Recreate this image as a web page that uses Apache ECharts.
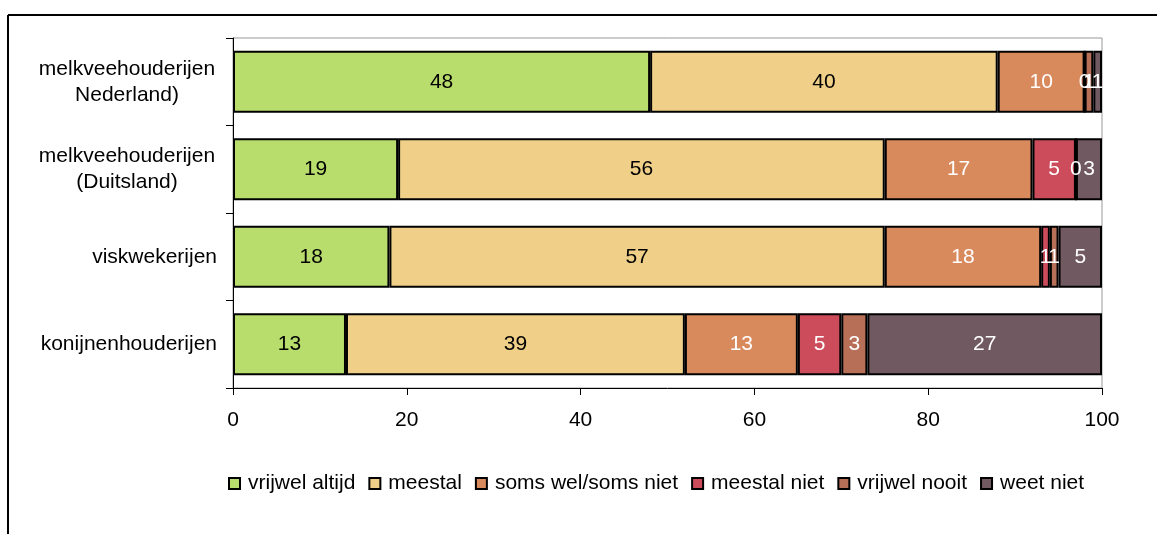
<!DOCTYPE html>
<html>
<head>
<meta charset="utf-8">
<script src="https://cdn.jsdelivr.net/npm/echarts@6/dist/echarts.min.js"></script>
<style>
  html, body { margin: 0; padding: 0; background: #fff; }
  #chart { width: 1157px; height: 534px; }
</style>
</head>
<body>
<div id="chart"></div>
<script>
// categories top to bottom
const categories = ['melkveehouderijen\nNederland)', 'melkveehouderijen\n(Duitsland)', 'viskwekerijen', 'konijnenhouderijen']
const seriesNames = ['vrijwel altijd', 'meestal', 'soms wel/soms niet', 'meestal niet', 'vrijwel nooit', 'weet niet']
const vrijwelAltijd = [48, 19, 18, 13]
const meestal = [40, 56, 57, 39]
const somsWel = [10, 17, 18, 13]
const meestalNiet = [0, 5, 1, 5]
const vrijwelNooit = [1, 0, 1, 3]
const weetNiet = [1, 3, 5, 27]
const xTicks = [0, 20, 40, 60, 80, 100]

const colors = ['#b8dd6c', '#f0d088', '#d98a5d', '#cc4c5b', '#b86f57', '#715961']
const labelColors = ['#000', '#000', '#fff', '#fff', '#fff', '#fff']
const values = [vrijwelAltijd, meestal, somsWel, meestalNiet, vrijwelNooit, weetNiet]

const font = 'Liberation Sans, Arial, sans-serif'

const chart = echarts.init(document.getElementById('chart'))
chart.setOption({
    animation: false,
    color: colors,
    textStyle: { fontFamily: font },
    grid: {
        left: 233, right: 55, top: 38, bottom: 146,
        show: true, borderColor: '#999', borderWidth: 1
    },
    legend: {
        top: 468,
        left: 223,
        itemWidth: 11,
        itemHeight: 11,
        itemGap: 13,
        icon: 'rect',
        textStyle: { fontSize: 21, color: '#000', fontFamily: font, padding: [0, 0, 0, 3] },
        data: seriesNames.map(n => ({ name: n, itemStyle: { borderColor: '#000', borderWidth: 2 } }))
    },
    xAxis: {
        type: 'value',
        min: xTicks[0],
        max: xTicks[xTicks.length - 1],
        interval: 20,
        splitLine: { show: false },
        axisLine: { show: true, lineStyle: { color: '#000' } },
        axisTick: { show: true, length: 7, lineStyle: { color: '#000' } },
        axisLabel: { fontSize: 21, color: '#000', margin: 22, fontFamily: font }
    },
    yAxis: {
        type: 'category',
        inverse: true,
        data: categories,
        axisLine: { show: true, lineStyle: { color: '#000' } },
        axisTick: { show: true, length: 7, lineStyle: { color: '#000' } },
        axisLabel: {
            fontSize: 21, color: '#000', margin: 16, lineHeight: 26, fontFamily: font,
            formatter: v => v.includes('\n') ? v.split('\n').map(s => '{c|' + s + '}').join('\n') : v,
            rich: { c: { width: 180, align: 'center', fontSize: 21, lineHeight: 26, fontFamily: font, color: '#000' } }
        }
    },
    series: seriesNames.map((name, i) => ({
        name: name,
        type: 'bar',
        stack: 'total',
        barWidth: 62,
        data: values[i],
        itemStyle: { borderColor: '#000', borderWidth: 2 },
        label: {
            show: true,
            position: 'inside',
            color: labelColors[i],
            fontSize: 21,
            fontFamily: font
        }
    })),
    graphic: [
        { type: 'line', shape: { x1: 8, y1: 15, x2: 1157, y2: 15 }, style: { stroke: '#000', lineWidth: 2 } },
        { type: 'line', shape: { x1: 8, y1: 15, x2: 8, y2: 534 }, style: { stroke: '#000', lineWidth: 2 } }
    ]
})
</script>
</body>
</html>
